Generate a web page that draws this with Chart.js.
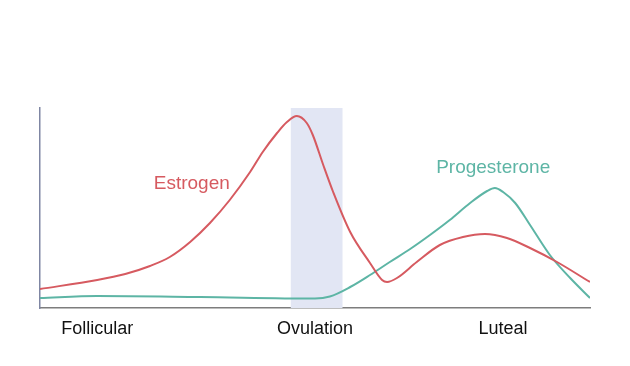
<!DOCTYPE html>
<html>
<head>
<meta charset="utf-8">
<title>Hormone cycle</title>
<script src="https://cdn.jsdelivr.net/npm/chart.js@4/dist/chart.umd.min.js"></script>
<style>
    html, body { margin: 0; padding: 0; background: #fff; }
    #wrap { width: 630px; height: 366px; }
</style>
</head>
<body>
<div id="wrap"><canvas id="cycleChart" width="630" height="366"></canvas></div>
<script>
// Cycle position (0-100) and relative hormone level (0-100)
const estrogenX = [0, 10.4, 15.5, 20, 23.6, 27.3, 30.9, 34.5, 38.2, 40.5, 43.1, 44.9, 46.7, 48.5, 49.6, 51.5, 53.3, 56.4, 60, 62.2, 63.1, 64.9, 68.5, 72.7, 76.9, 80.9, 84.9, 89.1, 94, 100];
const estrogenY = [9.5, 14, 17, 21, 25.5, 33, 42.5, 54, 68, 78, 87.5, 93, 96, 92.5, 86.5, 71.5, 58, 38, 22.5, 14, 13, 15, 23, 31.5, 35.5, 37, 35, 30, 23, 13];

const progesteroneX = [0, 10.4, 29.1, 50, 52.7, 56.4, 60, 63.6, 67.3, 70.9, 74.5, 78.2, 81.3, 82.7, 84.2, 86.4, 89.1, 92.7, 96.4, 100];
const progesteroneY = [5, 6, 5.5, 4.75, 5.75, 10.5, 16.5, 23, 29.5, 36.5, 44, 52.5, 58.5, 60, 58, 52.5, 41.5, 26.5, 15, 5];

// Phase names under the axis and where they sit
const phaseLabels = ['Follicular', 'Ovulation', 'Luteal'];
const phaseTicks = [10.4, 50, 84.2];

// Ovulation window (shaded)
const ovulationWindow = [45.6, 55];

// Curve names written next to the lines
const seriesNames = ['Estrogen', 'Progesterone'];
const seriesNameAt = [[27.6, 62], [82.4, 70]];

const RED = '#d65a60';
const TEAL = '#5db5a5';
const FONT = '"Liberation Sans", Arial, Helvetica, sans-serif';

function toPoints(xs, ys) {
    return xs.map((x, i) => ({ x: x, y: ys[i] }));
}

// Shaded ovulation band behind the lines
const bandPlugin = {
    id: 'band',
    beforeDatasetsDraw(chart) {
        const { ctx, chartArea, scales } = chart;
        const x0 = scales.x.getPixelForValue(ovulationWindow[0]);
        const x1 = scales.x.getPixelForValue(ovulationWindow[1]);
        ctx.save();
        ctx.fillStyle = '#e2e6f4';
        ctx.fillRect(x0, chartArea.top, x1 - x0, chartArea.bottom - chartArea.top);
        ctx.restore();
    }
};

// Labels for each curve
const nameplatePlugin = {
    id: 'nameplates',
    afterDatasetsDraw(chart) {
        const { ctx, scales } = chart;
        ctx.save();
        ctx.font = '19px ' + FONT;
        ctx.textAlign = 'center';
        ctx.textBaseline = 'middle';
        seriesNames.forEach((name, i) => {
            ctx.fillStyle = chart.data.datasets[i].borderColor;
            ctx.fillText(name,
                scales.x.getPixelForValue(seriesNameAt[i][0]),
                scales.y.getPixelForValue(seriesNameAt[i][1]));
        });
        ctx.restore();
    }
};

const ctx = document.getElementById('cycleChart').getContext('2d');
new Chart(ctx, {
    type: 'line',
    data: {
        datasets: [{
            label: seriesNames[0],
            data: toPoints(estrogenX, estrogenY),
            borderColor: RED,
            borderWidth: 2,
            pointRadius: 0,
            cubicInterpolationMode: 'monotone',
            fill: false
        }, {
            label: seriesNames[1],
            data: toPoints(progesteroneX, progesteroneY),
            borderColor: TEAL,
            borderWidth: 2,
            pointRadius: 0,
            cubicInterpolationMode: 'monotone',
            fill: false
        }]
    },
    options: {
        responsive: false,
        animation: false,
        layout: { padding: { top: 108, right: 40, left: 0, bottom: 0 } },
        plugins: {
            legend: { display: false },
            tooltip: { enabled: false }
        },
        scales: {
            x: {
                type: 'linear',
                min: 0,
                max: 100,
                grid: { display: false, drawTicks: false },
                border: { display: true, color: '#7d7d7d', width: 1.5 },
                afterBuildTicks(scale) {
                    scale.ticks = phaseTicks.map(v => ({ value: v }));
                },
                afterFit(scale) {
                    scale.height = 58;
                },
                ticks: {
                    autoSkip: false,
                    maxRotation: 0,
                    padding: 10,
                    color: '#111',
                    font: { family: FONT, size: 18 },
                    callback: (value, index) => phaseLabels[index]
                }
            },
            y: {
                min: 0,
                max: 100,
                grid: { display: false, drawTicks: false },
                border: { display: true, color: '#7f86a3', width: 1.5 },
                afterFit(scale) {
                    scale.width = 40;
                },
                ticks: { display: false }
            }
        }
    },
    plugins: [bandPlugin, nameplatePlugin]
});
</script>
</body>
</html>
